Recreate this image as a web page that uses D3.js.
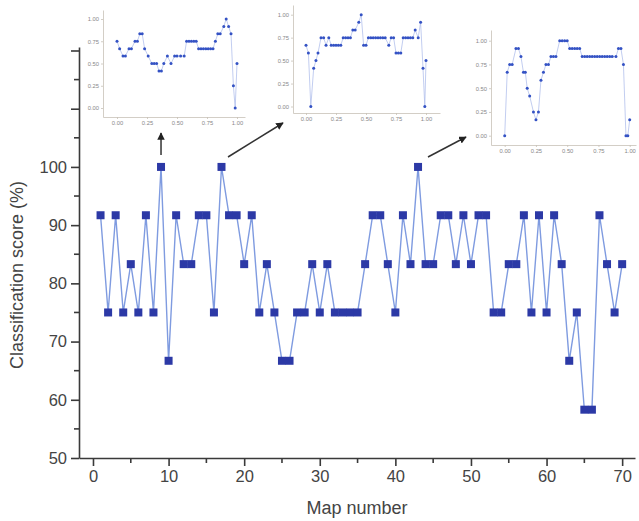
<!DOCTYPE html>
<html>
<head>
<meta charset="utf-8">
<script src="https://cdn.jsdelivr.net/npm/d3@7"></script>
<style>
  body { margin: 0; background: #fff; }
  svg { font-family: "Liberation Sans", Arial, sans-serif; }
</style>
</head>
<body>
<div class="chart"></div>
<script>
// main series: classification score per map
var mapNumbers = [1,2,3,4,5,6,7,8,9,10,11,12,13,14,15,16,17,18,19,20,
  21,22,23,24,25,26,27,28,29,30,31,32,33,34,35,36,37,38,39,40,
  41,42,43,44,45,46,47,48,49,50,51,52,53,54,55,56,57,58,59,60,
  61,62,63,64,65,66,67,68,69,70];
var scores = [91.7,75,91.7,75,83.3,75,91.7,75,100,66.7,
  91.7,83.3,83.3,91.7,91.7,75,100,91.7,91.7,83.3,
  91.7,75,83.3,75,66.7,66.7,75,75,83.3,75,
  83.3,75,75,75,75,83.3,91.7,91.7,83.3,75,
  91.7,83.3,100,83.3,83.3,91.7,91.7,83.3,91.7,83.3,
  91.7,91.7,75,75,83.3,83.3,91.7,75,91.7,75,
  91.7,83.3,66.7,75,58.3,58.3,91.7,83.3,75,83.3];
var xTicks = [0,10,20,30,40,50,60,70];
var yTicks = [50,60,70,80,90,100,110,120];
var yTickLabels = ["50","60","70","80","90","100","",""];

// insets (maps 9, 17, 43)
var insetAX = [0,0.022,0.05,0.07,0.1,0.12,0.15,0.17,0.19,0.21,0.23,0.26,0.29,0.31,0.33,0.35,0.37,0.39,0.42,0.45,
  0.48,0.5,0.53,0.56,0.58,0.6,0.62,0.64,0.66,0.68,0.7,0.72,0.74,0.76,0.78,0.8,0.82,0.84,0.86,0.89,
  0.91,0.93,0.95,0.97,0.985,1.0];
var insetAY = [0.75,0.667,0.583,0.583,0.667,0.667,0.75,0.75,0.833,0.833,0.667,0.583,0.5,0.5,0.5,0.417,0.417,0.5,0.583,0.5,
  0.583,0.583,0.583,0.583,0.75,0.75,0.75,0.75,0.75,0.667,0.667,0.667,0.667,0.667,0.667,0.667,0.75,0.833,0.833,0.917,
  1,0.917,0.833,0.25,0,0.5];
var insetBX = [0,0.02,0.04,0.064,0.083,0.1,0.125,0.147,0.167,0.19,0.21,0.23,0.25,0.27,0.29,0.31,0.33,0.35,0.37,0.39,
  0.41,0.44,0.46,0.48,0.5,0.52,0.54,0.56,0.58,0.6,0.62,0.64,0.66,0.69,0.71,0.73,0.75,0.77,0.79,0.81,
  0.83,0.85,0.87,0.89,0.91,0.935,0.955,0.975,0.99,1.0];
var insetBY = [0.667,0.583,0,0.417,0.5,0.583,0.75,0.75,0.667,0.75,0.667,0.667,0.667,0.667,0.667,0.75,0.75,0.75,0.75,0.833,
  0.833,0.917,1,0.667,0.667,0.75,0.75,0.75,0.75,0.75,0.75,0.75,0.75,0.667,0.75,0.75,0.583,0.583,0.583,0.75,
  0.75,0.75,0.75,0.75,0.833,0.75,0.917,0.417,0,0.5];
var insetCX = [0,0.02,0.04,0.06,0.09,0.11,0.13,0.15,0.165,0.18,0.2,0.23,0.25,0.27,0.29,0.31,0.33,0.35,0.37,0.39,
  0.41,0.44,0.46,0.48,0.5,0.52,0.54,0.56,0.58,0.6,0.62,0.64,0.66,0.68,0.7,0.72,0.74,0.76,0.78,0.8,
  0.82,0.84,0.86,0.89,0.91,0.93,0.95,0.97,0.985,1.0];
var insetCY = [0,0.667,0.75,0.75,0.917,0.917,0.833,0.667,0.667,0.5,0.417,0.25,0.167,0.25,0.583,0.667,0.75,0.75,0.833,0.833,
  0.833,1,1,1,1,0.917,0.917,0.917,0.917,0.917,0.833,0.833,0.833,0.833,0.833,0.833,0.833,0.833,0.833,0.833,
  0.833,0.833,0.833,0.833,0.917,0.917,0.75,0,0,0.167];
var insetTicks = [0,0.25,0.5,0.75,1];

var W = 639, H = 521;
var svg = d3.select(".chart").append("svg")
  .attr("width", W).attr("height", H);

// ---- main chart ----
var x = d3.scaleLinear().domain([-1.85, 71.7]).range([79, 635]);
var y = d3.scaleLinear().domain([50, 120.6]).range([458, 47]);

var axisColor = "#3a3a3a";

var xAxis = svg.append("g")
  .attr("transform", "translate(0,458)")
  .call(d3.axisBottom(x).tickValues(xTicks).tickSize(8).tickSizeOuter(0).tickPadding(4));
xAxis.append("g").selectAll("line")
  .data([5,15,25,35,45,55,65]).enter().append("line")
  .attr("x1", d => x(d)).attr("x2", d => x(d))
  .attr("y1", 0).attr("y2", 5);

var yAxis = svg.append("g")
  .attr("transform", "translate(79,0)")
  .call(d3.axisLeft(y).tickValues(yTicks).tickSize(8).tickSizeOuter(0).tickPadding(4)
    .tickFormat((d, i) => yTickLabels[i]));
yAxis.append("g").selectAll("line")
  .data([55,65,75,85,95,105,115]).enter().append("line")
  .attr("y1", d => y(d)).attr("y2", d => y(d))
  .attr("x1", 0).attr("x2", -5);

[xAxis, yAxis].forEach(g => {
  g.selectAll("path, line").attr("stroke", axisColor).attr("stroke-width", 1.6);
  g.selectAll("text").attr("fill", "#444").attr("font-size", 16.5);
});

svg.append("text")
  .attr("x", 357).attr("y", 514)
  .attr("text-anchor", "middle")
  .attr("font-size", 18).attr("fill", "#444")
  .text("Map number");

svg.append("text")
  .attr("transform", "translate(23,275) rotate(-90)")
  .attr("text-anchor", "middle")
  .attr("font-size", 18).attr("fill", "#444")
  .text("Classification score (%)");

var line = d3.line()
  .x((d, i) => x(mapNumbers[i]))
  .y(d => y(d));

svg.append("path")
  .datum(scores)
  .attr("d", line)
  .attr("fill", "none")
  .attr("stroke", "#7f9be0")
  .attr("stroke-width", 1.4);

svg.append("g").selectAll("rect")
  .data(scores).enter().append("rect")
  .attr("x", (d, i) => x(mapNumbers[i]) - 4)
  .attr("y", d => y(d) - 4)
  .attr("width", 8).attr("height", 8)
  .attr("fill", "#2c39a6");

// ---- arrows ----
svg.append("defs").append("marker")
  .attr("id", "head")
  .attr("viewBox", "0 0 10 10")
  .attr("refX", 9).attr("refY", 5)
  .attr("markerWidth", 5).attr("markerHeight", 5)
  .attr("orient", "auto")
  .append("path").attr("d", "M0,0L10,5L0,10Z").attr("fill", "#222");

var arrows = [
  [x(9), 155, x(9), 133],
  [228, 157, 283, 123],
  [428, 157, 466, 137]
];
svg.append("g").selectAll("line")
  .data(arrows).enter().append("line")
  .attr("x1", d => d[0]).attr("y1", d => d[1])
  .attr("x2", d => d[2]).attr("y2", d => d[3])
  .attr("stroke", "#333").attr("stroke-width", 1.5)
  .attr("marker-end", "url(#head)");

// ---- insets ----
function drawInset(xs, ys, box) {
  var ix = d3.scaleLinear().domain([0, 1]).range([box.x0, box.x1]);
  ix.domain([ix.invert(box.left), ix.invert(box.right)]).range([box.left, box.right]);
  var iy = d3.scaleLinear().domain([0, 1]).range([box.y0, box.y1]);
  iy.domain([iy.invert(box.bottom), iy.invert(box.top)]).range([box.bottom, box.top]);

  var g = svg.append("g");
  g.append("rect")
    .attr("x", box.left).attr("y", box.top)
    .attr("width", box.right - box.left).attr("height", box.bottom - box.top)
    .attr("fill", "#fff");

  var ax = g.append("g").attr("transform", "translate(0," + box.bottom + ")")
    .call(d3.axisBottom(ix).tickValues(insetTicks).tickSize(2).tickSizeOuter(0)
      .tickPadding(2).tickFormat(d3.format(".2f")));
  var ay = g.append("g").attr("transform", "translate(" + box.left + ",0)")
    .call(d3.axisLeft(iy).tickValues(insetTicks).tickSize(2).tickSizeOuter(0)
      .tickPadding(2).tickFormat(d3.format(".2f")));
  [ax, ay].forEach(a => {
    a.selectAll("path, line").attr("stroke", "#c8c2b8").attr("stroke-width", 0.8);
    a.selectAll("text").attr("fill", "#888").attr("font-size", 5.8);
  });

  var pts = xs.map((v, i) => [v, ys[i]]);
  g.append("path")
    .datum(pts)
    .attr("d", d3.line().x(d => ix(d[0])).y(d => iy(d[1])))
    .attr("fill", "none")
    .attr("stroke", "#a7b8ea")
    .attr("stroke-width", 0.7);
  g.selectAll("circle")
    .data(pts).enter().append("circle")
    .attr("cx", d => ix(d[0])).attr("cy", d => iy(d[1]))
    .attr("r", 1.5)
    .attr("fill", "#3452c4");
}

drawInset(insetAX, insetAY, {left: 103, right: 245, top: 10, bottom: 117, x0: 117, x1: 237, y0: 108, y1: 19});
drawInset(insetBX, insetBY, {left: 293, right: 440, top: 5, bottom: 113, x0: 306, x1: 426, y0: 106.5, y1: 14.7});
drawInset(insetCX, insetCY, {left: 491, right: 636, top: 30, bottom: 145, x0: 504.7, x1: 629.7, y0: 135.7, y1: 40.7});
</script>
</body>
</html>
